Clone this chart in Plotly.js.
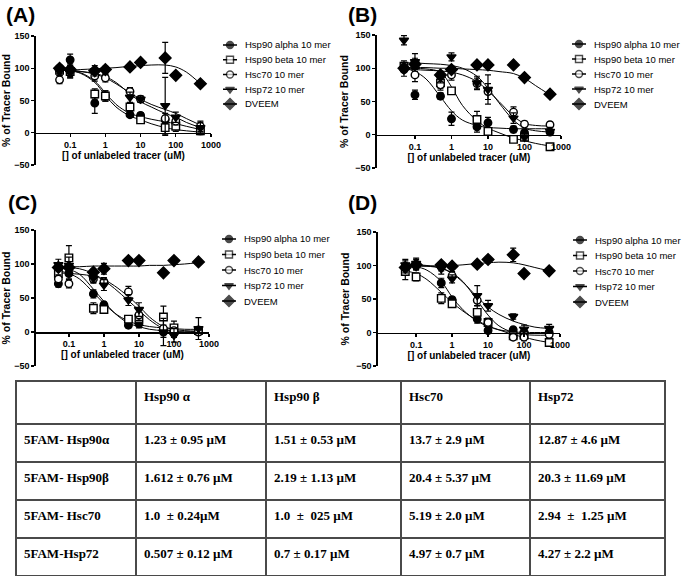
<!DOCTYPE html>
<html><head><meta charset="utf-8">
<script src="https://cdn.plot.ly/plotly-3.0.1.min.js"></script>
<style>html,body{margin:0;padding:0;background:#fff}#chart{width:683px;height:579px}</style>
</head><body><div id="chart"></div>
<script>
// ---------------- DATA ----------------
const conc = [0.05, 0.1, 0.5, 1, 5, 10, 50, 100, 500];
const curveConc = [0.05, 0.1, 0.2, 0.5, 1, 2, 5, 10, 20, 50, 100, 200, 500];
const seriesNames = ['Hsp90 alpha 10 mer', 'Hsp90 beta 10 mer', 'Hsc70 10 mer', 'Hsp72 10 mer', 'DVEEM'];
const xTickVals = [0.1, 1, 10, 100, 1000];
const xTickText = ['0.1', '1', '10', '100', '1000'];
const yTickVals = [-50, 0, 50, 100, 150];
const panelLabels = ['(A)', '(B)', '(C)', '(D)'];
const xTitle = '[] of unlabeled tracer (uM)';
const yTitle = '% of Tracer Bound';

// Panel A
const A_alpha = [97, 113, 46, 57, 28, 27, 20, 15, 3];
const A_alphaErr = [8, 9, 16, 8, 4, 4, 6, 6, 5];
const A_beta = [97, 95, 60, 57, 40, 20, 8, 10, 3];
const A_betaErr = [5, 10, 8, 8, 6, 4, 12, 8, 6];
const A_hsc70 = [82, 97, 88, 85, 64, 52, 22, 18, 10];
const A_hsc70Err = [6, 10, 8, 6, 6, 5, 8, 6, 8];
const A_hsp72 = [95, 93, 96, 97, 55, 52, 42, 24, 8];
const A_hsp72Err = [6, 8, 8, 6, 8, 5, 44, 8, 8];
const A_dveem = [100, 98, 96, 98, 102, 109, 116, 89, 76];
const A_dveemErr = [3, 3, 3, 3, 2, 2, 24, 2, 2];
const A_alphaFit = [97, 96, 93, 80, 62, 44, 30, 25, 21, 17, 14, 10, 5];
const A_betaFit = [97, 96, 92, 78, 58, 40, 26, 20, 14, 8, 5, 3, 1];
const A_hsc70Fit = [97, 97, 95, 91, 85, 76, 62, 52, 44, 36, 30, 22, 12];
const A_hsp72Fit = [97, 96, 95, 92, 87, 78, 60, 48, 40, 30, 24, 16, 8];
const A_dveemFit = [97, 97, 98, 99, 100, 101, 103, 104, 105, 105, 102, 94, 76];

// Panel B
const B_alpha = [100, 60, 58, 24, 12, 18, 8, 3, 4];
const B_alphaErr = [5, 7, 5, 10, 8, 8, 5, 3, 3];
const B_beta = [103, 105, 78, 66, 23, 5, -7, -4, -18];
const B_betaErr = [8, 10, 8, 5, 12, 5, 4, 4, 4];
const B_hsc70 = [98, 90, 75, 90, 77, 65, 34, 16, 15];
const B_hsc70Err = [10, 10, 8, 8, 8, 12, 8, 4, 4];
const B_hsp72 = [142, 110, 86, 117, 78, 68, 25, -4, 5];
const B_hsp72Err = [7, 12, 8, 6, 10, 22, 8, 5, 6];
const B_dveem = [100, 106, 90, 98, 105, 105, 105, 86, 61];
const B_dveemErr = [5, 5, 5, 5, 2, 2, 2, 3, 3];
const B_alphaFit = [100, 95, 84, 57, 36, 22, 14, 11, 10, 9, 9, 9, 9];
const B_betaFit = [101, 100, 99, 94, 72, 44, 21, 10, 3, -5, -9, -13, -17];
const B_hsc70Fit = [99, 98, 97, 96, 94, 90, 80, 66, 50, 28, 17, 14, 13];
const B_hsp72Fit = [108, 108, 107, 106, 104, 100, 88, 70, 48, 22, 10, 6, 4];
const B_dveemFit = [101, 101, 101, 100, 100, 99, 98, 97, 95, 92, 85, 74, 60];

// Panel C
const C_alpha = [71, 86, 56, 40, 10, 12, 0, -2, 3];
const C_alphaErr = [5, 8, 6, 4, 4, 6, 8, 6, 4];
const C_beta = [86, 109, 35, 33, 19, 20, 22, 6, 2];
const C_betaErr = [8, 18, 8, 5, 5, 8, 16, 10, 6];
const C_hsc70 = [78, 71, 78, 74, 59, 25, 5, 2, 0];
const C_hsc70Err = [6, 6, 6, 6, 8, 8, 5, 4, 4];
const C_hsp72 = [99, 98, 79, 69, 47, 33, 0, -5, 5];
const C_hsp72Err = [8, 12, 6, 8, 8, 10, 20, 10, 16];
const C_dveem = [95, 95, 88, 93, 105, 105, 87, 105, 103];
const C_dveemErr = [4, 4, 4, 8, 2, 2, 2, 2, 2];
const C_alphaFit = [95, 92, 85, 63, 45, 28, 13, 8, 4, 2, 1, 1, 1];
const C_betaFit = [90, 86, 78, 58, 42, 28, 16, 11, 8, 6, 5, 4, 4];
const C_hsc70Fit = [87, 86, 85, 82, 77, 68, 52, 38, 22, 8, 4, 2, 1];
const C_hsp72Fit = [96, 95, 93, 86, 76, 64, 46, 32, 18, 5, 1, -1, -2];
const C_dveemFit = [96, 96, 96, 97, 97, 97, 97, 97, 98, 98, 99, 100, 102];

// Panel D
const D_alpha = [95, 100, 74, 49, 20, 3, 4, 0, 0];
const D_alphaErr = [8, 6, 7, 4, 6, 4, 4, 4, 4];
const D_beta = [91, 83, 51, 43, 30, 15, -5, -4, -15];
const D_betaErr = [12, 6, 8, 5, 10, 6, 5, 5, 5];
const D_hsc70 = [99, 101, 98, 85, 48, 15, -7, -7, -3];
const D_hsc70Err = [10, 8, 6, 6, 8, 6, 4, 5, 5];
const D_hsp72 = [101, 103, 95, 80, 55, 40, 24, 5, 6];
const D_hsp72Err = [6, 8, 8, 6, 15, 8, 4, 6, 6];
const D_dveem = [97, 101, 101, 99, 102, 109, 116, 88, 92];
const D_dveemErr = [4, 4, 4, 4, 2, 3, 10, 3, 3];
const D_alphaFit = [99, 98, 93, 76, 53, 34, 17, 9, 4, 1, 0, 0, 0];
const D_betaFit = [92, 88, 79, 60, 45, 32, 18, 10, 4, -3, -7, -11, -15];
const D_hsc70Fit = [100, 100, 99, 96, 89, 76, 48, 26, 10, 0, -3, -4, -4];
const D_hsp72Fit = [101, 101, 100, 96, 88, 75, 53, 38, 27, 17, 12, 8, 6];
const D_dveemFit = [99, 99, 99, 100, 100, 101, 103, 104, 105, 104, 101, 97, 92];

// Table
const tableColHeaders = ['', 'Hsp90 \u03b1', 'Hsp90 \u03b2', 'Hsc70', 'Hsp72'];
const tableRowLabels = ['5FAM- Hsp90\u03b1', '5FAM- Hsp90\u03b2', '5FAM- Hsc70', '5FAM-Hsp72'];
const kd_Hsp90a = ['1.23 \u00b1 0.95 \u00b5M', '1.612 \u00b1 0.76 \u00b5M', '1.0\u00a0 \u00b1 0.24\u00b5M', '0.507 \u00b1 0.12 \u00b5M'];
const kd_Hsp90b = ['1.51 \u00b1 0.53 \u00b5M', '2.19 \u00b1 1.13 \u00b5M', '1.0\u00a0 \u00b1\u00a0 025 \u00b5M', '0.7 \u00b1 0.17 \u00b5M'];
const kd_Hsc70 = ['13.7 \u00b1 2.9 \u00b5M', '20.4 \u00b1 5.37 \u00b5M', '5.19 \u00b1 2.0 \u00b5M', '4.97 \u00b1 0.7 \u00b5M'];
const kd_Hsp72 = ['12.87 \u00b1 4.6 \u00b5M', '20.3 \u00b1 11.69 \u00b5M', '2.94\u00a0 \u00b1\u00a0 1.25 \u00b5M', '4.27 \u00b1 2.2 \u00b5M'];

// ---------------- BUILD ----------------
const W = 683, H = 579;
const fx = p => p / W;
const fy = p => 1 - p / H;
const SANS = 'Liberation Sans, Arial, sans-serif';
const SERIF = 'Liberation Serif, Times New Roman, serif';

const panels = [
  {vals: [A_alpha, A_beta, A_hsc70, A_hsp72, A_dveem], errs: [A_alphaErr, A_betaErr, A_hsc70Err, A_hsp72Err, A_dveemErr], fits: [A_alphaFit, A_betaFit, A_hsc70Fit, A_hsp72Fit, A_dveemFit]},
  {vals: [B_alpha, B_beta, B_hsc70, B_hsp72, B_dveem], errs: [B_alphaErr, B_betaErr, B_hsc70Err, B_hsp72Err, B_dveemErr], fits: [B_alphaFit, B_betaFit, B_hsc70Fit, B_hsp72Fit, B_dveemFit]},
  {vals: [C_alpha, C_beta, C_hsc70, C_hsp72, C_dveem], errs: [C_alphaErr, C_betaErr, C_hsc70Err, C_hsp72Err, C_dveemErr], fits: [C_alphaFit, C_betaFit, C_hsc70Fit, C_hsp72Fit, C_dveemFit]},
  {vals: [D_alpha, D_beta, D_hsc70, D_hsp72, D_dveem], errs: [D_alphaErr, D_betaErr, D_hsc70Err, D_hsp72Err, D_dveemErr], fits: [D_alphaFit, D_betaFit, D_hsc70Fit, D_hsp72Fit, D_dveemFit]}
];

// layout geometry (pixels)
const geo = [
  {xl: 36, xr: 211, xmin: -1.97, yt: 36, yb: 165, labX: 4, labY: 15, legC: 230, legT: 243, legY0: 45, legStep: 14.75},
  {xl: 377, xr: 561, xmin: -2.04, yt: 35, yb: 168, labX: 346, labY: 15, legC: 579, legT: 592, legY0: 44, legStep: 15},
  {xl: 36, xr: 209, xmin: -1.94, yt: 230, yb: 366, labX: 6, labY: 202, legC: 229, legT: 242, legY0: 239, legStep: 15.5},
  {xl: 378, xr: 560, xmin: -2.06, yt: 232, yb: 366, labX: 346, labY: 202, legC: 580, legT: 593, legY0: 240, legStep: 15.5}
];

const symbols = ['circle', 'square', 'circle', 'triangle-down', 'diamond'];
const fills = ['black', 'white', 'white', 'black', 'black'];
const msizes = [7.5, 7.5, 7.5, 8, 9];

const traces = [];
const annotations = [];
const layout = {
  width: W, height: H, margin: {l: 0, r: 0, t: 0, b: 0},
  paper_bgcolor: 'white', plot_bgcolor: 'rgba(0,0,0,0)',
  showlegend: false, font: {family: SANS, color: 'black'},
  annotations: annotations
};

panels.forEach((p, i) => {
  const g = geo[i];
  const s = i === 0 ? '' : String(i + 1);
  const y0px = g.yt + 0.75 * (g.yb - g.yt);
  layout['xaxis' + s] = {
    type: 'log', range: [g.xmin, 3], domain: [fx(g.xl), fx(g.xr)],
    anchor: 'free', position: fy(y0px),
    tickvals: xTickVals, ticktext: xTickText, ticks: 'outside', ticklen: 3, tickwidth: 1.3, tickcolor: 'black',
    showline: true, linecolor: 'black', linewidth: 1.6, showgrid: false, zeroline: false,
    tickfont: {family: SANS, size: 9, color: 'black', weight: 'bold'},
    title: {text: xTitle, font: {family: SANS, size: 10, color: 'black', weight: 'bold'}, standoff: 1},
    fixedrange: true
  };
  layout['yaxis' + s] = {
    range: [-50, 150], domain: [fy(g.yb), fy(g.yt)], anchor: 'x' + s,
    tickvals: yTickVals, ticks: 'outside', ticklen: 3, tickwidth: 1.3, tickcolor: 'black',
    showline: true, linecolor: 'black', linewidth: 1.6, showgrid: false, zeroline: false,
    tickfont: {family: SANS, size: 9, color: 'black', weight: 'bold'},
    title: {text: yTitle, font: {family: SANS, size: 10.5, color: 'black', weight: 'bold'}, standoff: 4},
    fixedrange: true
  };
  // fitted curves
  p.fits.forEach((f, k) => {
    traces.push({type: 'scatter', mode: 'lines', x: curveConc, y: f, xaxis: 'x' + s, yaxis: 'y' + s,
      line: {color: 'black', width: 1, shape: 'spline', smoothing: 1}, hoverinfo: 'skip', showlegend: false});
  });
  // data points
  p.vals.forEach((v, k) => {
    traces.push({type: 'scatter', mode: 'markers', name: seriesNames[k], x: conc, y: v, xaxis: 'x' + s, yaxis: 'y' + s,
      marker: {symbol: symbols[k], size: msizes[k], color: fills[k], line: {color: 'black', width: 1.4}},
      error_y: {type: 'data', array: p.errs[k], visible: true, color: 'black', thickness: 1.2, width: 3},
      showlegend: false});
  });
  // panel label
  annotations.push({xref: 'paper', yref: 'paper', x: fx(g.labX), y: fy(g.labY), xanchor: 'left', yanchor: 'middle',
    text: panelLabels[i], showarrow: false, font: {family: SANS, size: 21, color: 'black', weight: 'bold'}});
  // manual legend
  const ls = String(i + 5);
  const top = g.legY0 - g.legStep / 2, bot = g.legY0 + 4.5 * g.legStep;
  layout['xaxis' + ls] = {domain: [fx(g.legC - 10), fx(g.legC + 10)], range: [-10, 10], visible: false, anchor: 'y' + ls, fixedrange: true};
  layout['yaxis' + ls] = {domain: [fy(bot), fy(top)], range: [5.5, 0.5], visible: false, anchor: 'x' + ls, fixedrange: true};
  seriesNames.forEach((nm, k) => {
    const row = k + 1;
    traces.push({type: 'scatter', mode: 'lines+markers', x: [-7, 0, 7], y: [row, row, row], xaxis: 'x' + ls, yaxis: 'y' + ls,
      line: {color: 'black', width: 1.3},
      marker: {symbol: symbols[k], size: [0, msizes[k] - 0.5, 0], color: fills[k], line: {color: 'black', width: [0, 1.4, 0]}},
      hoverinfo: 'skip', showlegend: false});
    annotations.push({xref: 'paper', yref: 'y' + ls, x: fx(g.legT), y: row, xanchor: 'left', yanchor: 'middle',
      text: nm, showarrow: false, font: {family: SANS, size: 9.5, color: 'black'}});
  });
});

// table
const bold = arr => arr.map(t => t ? '<b>' + t + '</b>' : t);
traces.push({
  type: 'table',
  domain: {x: [fx(16), fx(665)], y: [fy(577), fy(381)]},
  columnwidth: [120, 130, 135, 129, 135],
  header: {values: bold(tableColHeaders), align: 'left', height: 43,
    line: {color: '#4a4a4a', width: 1.6}, fill: {color: 'white'},
    font: {family: SERIF, size: 13, color: 'black'}},
  cells: {values: [bold(tableRowLabels), bold(kd_Hsp90a), bold(kd_Hsp90b), bold(kd_Hsc70), bold(kd_Hsp72)],
    align: 'left', height: 38,
    line: {color: '#4a4a4a', width: 1.6}, fill: {color: 'white'},
    font: {family: SERIF, size: 13, color: 'black'}}
});

Plotly.newPlot('chart', traces, layout, {staticPlot: true, displayModeBar: false});
</script>
</body></html>
